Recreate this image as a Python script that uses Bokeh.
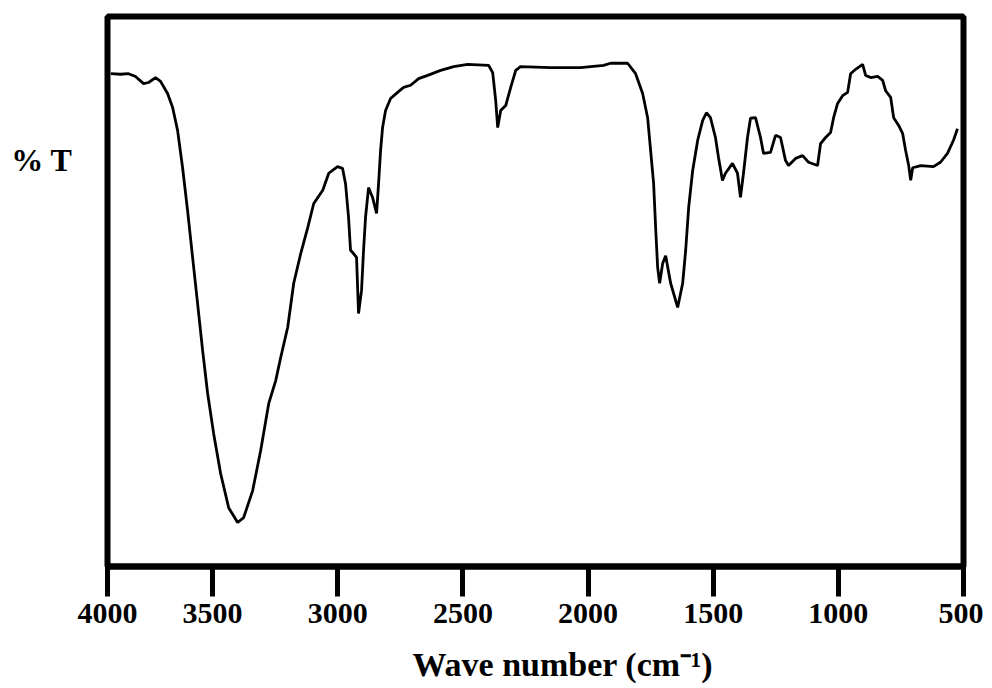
from bokeh.plotting import figure
from bokeh.models import Range1d, FixedTicker, Title
from bokeh.embed import file_html
from bokeh.resources import INLINE

# FTIR spectrum (wavenumber in cm-1, transmittance in arbitrary %T units)
wavenumber = [3907, 3868, 3836, 3808, 3776, 3756, 3728, 3708, 3680, 3660, 3640, 3620, 3600, 3580,
              3560, 3540, 3520, 3496, 3468, 3436, 3400, 3376, 3340, 3308, 3276, 3248, 3228,
              3200, 3176, 3148, 3120, 3096, 3060, 3036, 3001, 2981, 2969, 2957, 2949, 2937, 2925,
              2917, 2905, 2897, 2889, 2877, 2861, 2845, 2837, 2829, 2821, 2809, 2789, 2761, 2737,
              2709, 2677, 2641, 2589, 2537, 2481, 2397, 2381, 2369, 2361, 2349, 2329, 2309, 2289,
              2270, 2150, 2030, 1938, 1910, 1842, 1810, 1782, 1762, 1750, 1738, 1730, 1722, 1714,
              1702, 1690, 1670, 1642, 1622, 1610, 1598, 1582, 1562, 1542, 1527, 1511, 1491, 1479,
              1463, 1451, 1423, 1403, 1391, 1379, 1363, 1351, 1331, 1311, 1299, 1271, 1251, 1231,
              1211, 1199, 1171, 1143, 1119, 1083, 1071, 1051, 1031, 1019, 1003, 983, 963, 951,
              931, 903, 891, 871, 843, 823, 811, 791, 779, 759, 743, 731, 719, 711, 703, 671,
              620, 592, 564, 540, 524]
transmittance = [89.6, 89.5, 89.6, 89.1, 87.8, 88.0, 88.9, 88.2, 86.0, 83.5, 79.3, 72.5, 64.7, 56.2,
                 47.8, 39.3, 31.5, 24.2, 16.9, 10.7, 8.0, 8.9, 13.8, 21.1, 29.6, 33.8, 38.0,
                 43.5, 51.5, 56.9, 61.6, 66.0, 68.4, 71.5, 72.7, 72.4, 69.6, 63.5, 57.5, 56.9, 56.2,
                 46.0, 50.2, 57.5, 63.5, 68.9, 67.1, 64.2, 69.6, 75.6, 79.8, 82.9, 85.1, 86.2, 87.1,
                 87.5, 88.7, 89.3, 90.2, 90.9, 91.3, 91.1, 89.8, 84.7, 79.8, 82.9, 83.8, 87.1, 90.2,
                 90.9, 90.7, 90.7, 91.1, 91.5, 91.5, 89.6, 86.0, 81.6, 75.6, 69.6, 61.6, 54.4, 51.5,
                 55.1, 56.5, 51.5, 47.1, 51.5, 57.5, 65.3, 72.0, 77.5, 81.1, 82.5, 81.6, 78.0, 74.4,
                 70.2, 71.5, 73.3, 71.5, 67.1, 71.5, 78.0, 81.5, 81.6, 78.0, 75.1, 75.3, 78.4, 78.0,
                 73.8, 72.9, 74.2, 74.7, 73.5, 72.9, 76.9, 78.0, 78.9, 81.6, 84.2, 85.6, 86.2, 89.6,
                 90.4, 91.3, 89.3, 88.9, 89.1, 88.4, 86.5, 85.3, 81.6, 80.2, 78.7, 75.6, 72.9, 70.2, 72.5, 72.9,
                 72.7, 73.5, 75.1, 77.5, 79.6]

tick_values = [3920, 3500, 3000, 2500, 2000, 1500, 1000, 500]
tick_labels = ["4000", "3500", "3000", "2500", "2000", "1500", "1000", "500"]
x_title = "Wave number (cm\u207b\u00b9)"
y_title = "% T"
y_title_level = 74

SERIF = "Liberation Serif"

p = figure(frame_width=856, frame_height=550, output_backend="svg", toolbar_location=None,
           x_range=Range1d(3920, 500), y_range=Range1d(0, 100),
           min_border_left=107, min_border_right=20, min_border_top=16, min_border_bottom=0)

p.line(wavenumber, transmittance, line_color="black", line_width=2.8)

p.grid.visible = False
p.background_fill_color = "white"
p.border_fill_color = "white"
p.outline_line_color = "black"
p.outline_line_width = 6

ax = p.xaxis[0]
ax.ticker = FixedTicker(ticks=tick_values)
ax.major_label_overrides = {v: t for v, t in zip(tick_values, tick_labels)}
ax.minor_tick_line_color = None
ax.major_tick_in = 0
ax.major_tick_out = 30
ax.major_tick_line_width = 5
ax.major_tick_line_color = "black"
ax.axis_line_width = 6
ax.axis_line_color = "black"
ax.major_label_standoff = 7
ax.major_label_text_font = SERIF
ax.major_label_text_font_style = "bold"
ax.major_label_text_font_size = "30px"
ax.major_label_text_color = "black"

# the "% T" text on the left side, drawn as the single label of the y axis
ay = p.yaxis[0]
ay.ticker = FixedTicker(ticks=[y_title_level])
ay.major_label_overrides = {y_title_level: y_title}
ay.axis_line_color = None
ay.major_tick_line_color = None
ay.minor_tick_line_color = None
ay.major_tick_in = 0
ay.major_tick_out = 0
ay.major_label_standoff = 35
ay.major_label_text_font = SERIF
ay.major_label_text_font_style = "bold"
ay.major_label_text_font_size = "32px"
ay.major_label_text_color = "black"

t = Title(text=x_title, align="left", offset=305, standoff=36,
          text_font=SERIF, text_font_style="bold", text_font_size="34px", text_color="black")
p.add_layout(t, "below")

open("out.html", "w").write(file_html(p, INLINE))
